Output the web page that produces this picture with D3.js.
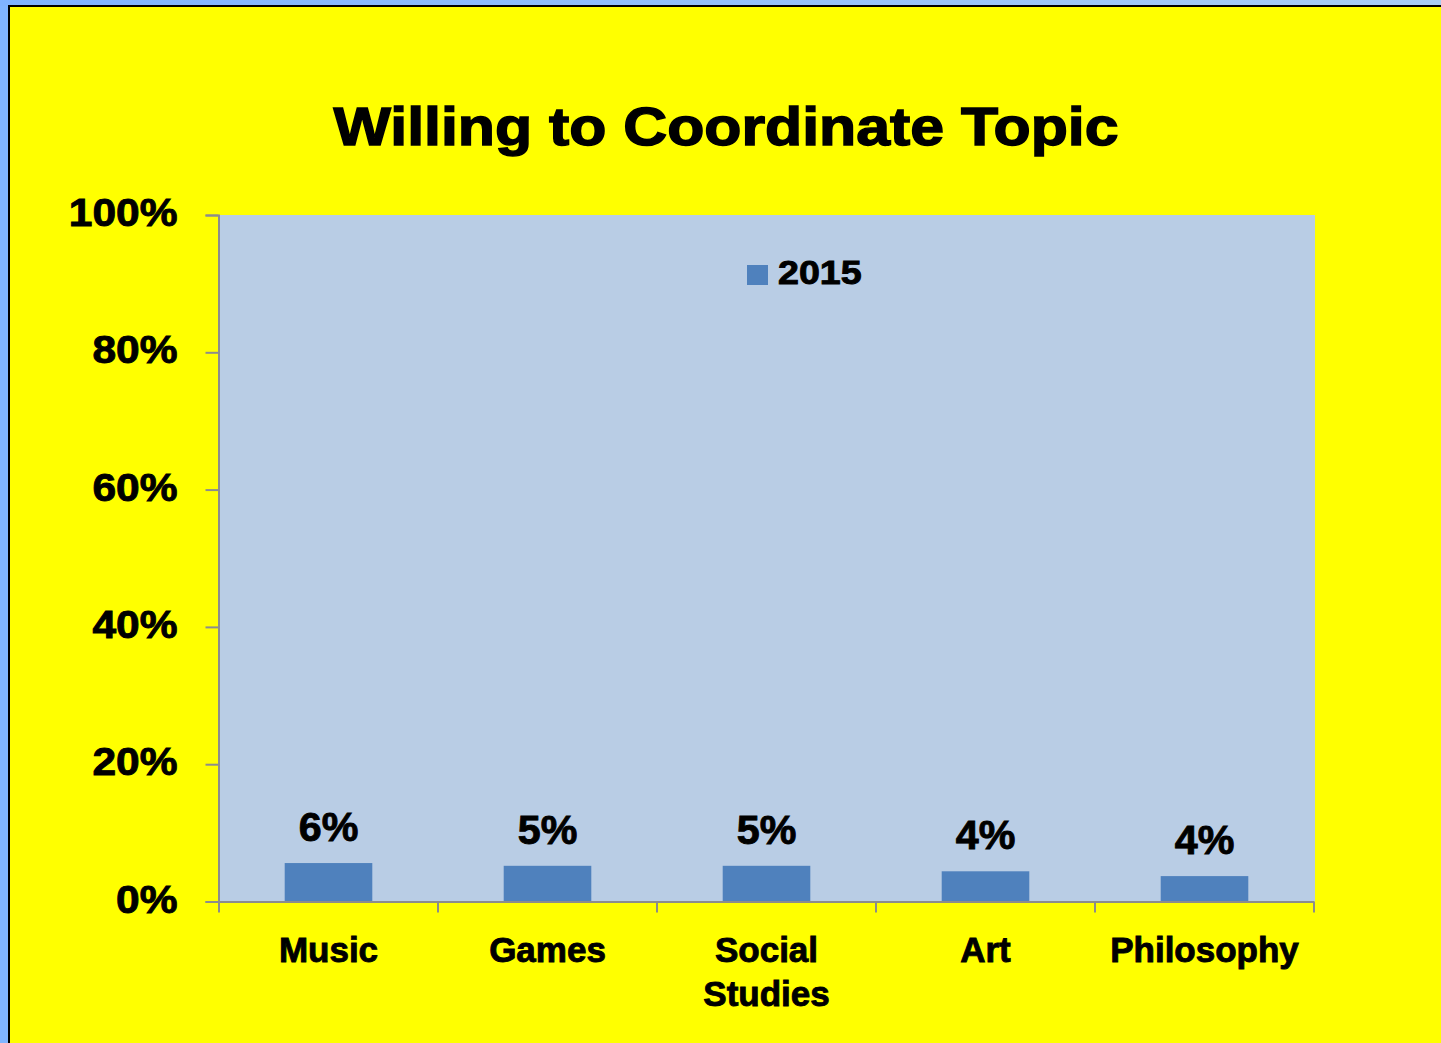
<!DOCTYPE html>
<html>
<head>
<meta charset="utf-8">
<script src="https://cdn.jsdelivr.net/npm/d3@7"></script>
<style>
  html, body { margin: 0; padding: 0; background: #ffff00; }
  svg { display: block; }
  text { font-family: "Liberation Sans", Arial, sans-serif; font-weight: bold; fill: #000; stroke: #000; stroke-width: 0.9px; }
</style>
</head>
<body>
<svg id="chart" width="1441" height="1043"></svg>
<script>
// Chart data
const title = "Willing to Coordinate Topic";
const seriesName = "2015";
const categories = ["Music", "Games", "Social Studies", "Art", "Philosophy"];
const values2015 = [0.056, 0.052, 0.052, 0.044, 0.037];
const yTicks = [0, 0.2, 0.4, 0.6, 0.8, 1.0];

const W = 1441, H = 1043;
const plot = { left: 219, right: 1315, top: 215, bottom: 901.5 };

const svg = d3.select("#chart");

// Widen a text element's glyphs horizontally by factor k
function stretch(sel, k) {
  sel.each(function () {
    const len = this.getComputedTextLength();
    d3.select(this).attr("textLength", len * k).attr("lengthAdjust", "spacingAndGlyphs");
  });
}

// Window frame: light blue edges, black rule, yellow chart area
const defs = svg.append("defs");
const grad = defs.append("linearGradient").attr("id", "topStrip").attr("x1", 0).attr("x2", 1);
grad.append("stop").attr("offset", 0).attr("stop-color", "#7fb3ff");
grad.append("stop").attr("offset", 1).attr("stop-color", "#a9cdf3");
svg.append("rect").attr("x", 0).attr("y", 0).attr("width", W).attr("height", H).attr("fill", "#80b5ff");
svg.append("rect").attr("x", 0).attr("y", 0).attr("width", W).attr("height", 6).attr("fill", "url(#topStrip)");
svg.append("rect").attr("x", 8).attr("y", 5).attr("width", W - 8).attr("height", H - 5).attr("fill", "#000");
svg.append("rect").attr("x", 10).attr("y", 7).attr("width", W - 10).attr("height", H - 7).attr("fill", "#ffff00");

// Scales
const x = d3.scaleBand().domain(categories).range([plot.left, plot.right - 1])
  .paddingInner(0.6).paddingOuter(0.3);
const y = d3.scaleLinear().domain([0, 1]).range([plot.bottom, plot.top]);

// Plot area background
svg.append("rect")
  .attr("x", plot.left).attr("y", plot.top)
  .attr("width", plot.right - plot.left).attr("height", plot.bottom - plot.top)
  .attr("fill", "#b9cde5");

// Bars
svg.append("g").selectAll("rect").data(categories).join("rect")
  .attr("x", d => x(d))
  .attr("y", (d, i) => y(values2015[i]))
  .attr("width", x.bandwidth())
  .attr("height", (d, i) => y(0) - y(values2015[i]))
  .attr("fill", "#4f81bd");

// Y axis
const axisColor = "#8c8c8c";
const yAxis = svg.append("g")
  .attr("transform", `translate(${plot.left - 0.5},0)`)
  .call(d3.axisLeft(y).tickValues(yTicks).tickSize(13).tickPadding(28).tickFormat(d3.format(".0%")));
yAxis.select(".domain").attr("stroke", axisColor).attr("stroke-width", 2);
yAxis.selectAll(".tick line").attr("stroke", axisColor).attr("stroke-width", 2);
yAxis.selectAll(".tick text")
  .attr("font-size", 39).attr("font-family", null).attr("dy", "0.27em").attr("fill", "#000");
stretch(yAxis.selectAll(".tick text"), 1.09);

// X axis: baseline with ticks at category boundaries
const bounds = d3.range(categories.length + 1).map(i => x.range()[0] + i * x.step());
const xAxis = svg.append("g");
xAxis.append("line")
  .attr("x1", plot.left - 0.5).attr("x2", plot.right - 1)
  .attr("y1", plot.bottom + 0.5).attr("y2", plot.bottom + 0.5)
  .attr("stroke", axisColor).attr("stroke-width", 2);
xAxis.selectAll("line.tick").data(bounds).join("line").attr("class", "tick")
  .attr("x1", d => d).attr("x2", d => d)
  .attr("y1", plot.bottom).attr("y2", plot.bottom + 11)
  .attr("stroke", axisColor).attr("stroke-width", 2);

// Category labels, wrapped to the band width
const catFont = 35;
categories.forEach(cat => {
  const cx = x(cat) + x.bandwidth() / 2;
  const words = cat.split(" ");
  const lines = [];
  let line = [];
  const probe = svg.append("text").attr("font-size", catFont);
  words.forEach(w => {
    const trial = line.concat(w).join(" ");
    probe.text(trial);
    if (line.length && probe.node().getComputedTextLength() > x.step() - 10) {
      lines.push(line.join(" "));
      line = [w];
    } else {
      line.push(w);
    }
  });
  lines.push(line.join(" "));
  probe.remove();
  lines.forEach((l, j) => {
    svg.append("text")
      .attr("x", cx).attr("y", 962 + j * 44)
      .attr("text-anchor", "middle").attr("font-size", catFont)
      .text(l);
  });
});

// Data labels above each bar
const fmt = d3.format(".0%");
const labels = svg.append("g").selectAll("text").data(categories).join("text")
  .attr("x", d => x(d) + x.bandwidth() / 2)
  .attr("y", (d, i) => y(values2015[i]) - 22)
  .attr("text-anchor", "middle")
  .attr("font-size", 40)
  .text((d, i) => fmt(values2015[i]));
stretch(labels, 1.03);

// Legend
svg.append("rect").attr("x", 747).attr("y", 265).attr("width", 21).attr("height", 20).attr("fill", "#4f81bd");
const leg = svg.append("text").attr("x", 778).attr("y", 284).attr("font-size", 33).text(seriesName);
stretch(leg, 1.14);

// Title
const t = svg.append("text")
  .attr("x", 726).attr("y", 145)
  .attr("text-anchor", "middle")
  .attr("font-size", 53)
  .style("stroke-width", "1.4px")
  .text(title);
stretch(t, 1.147);
</script>
</body>
</html>
